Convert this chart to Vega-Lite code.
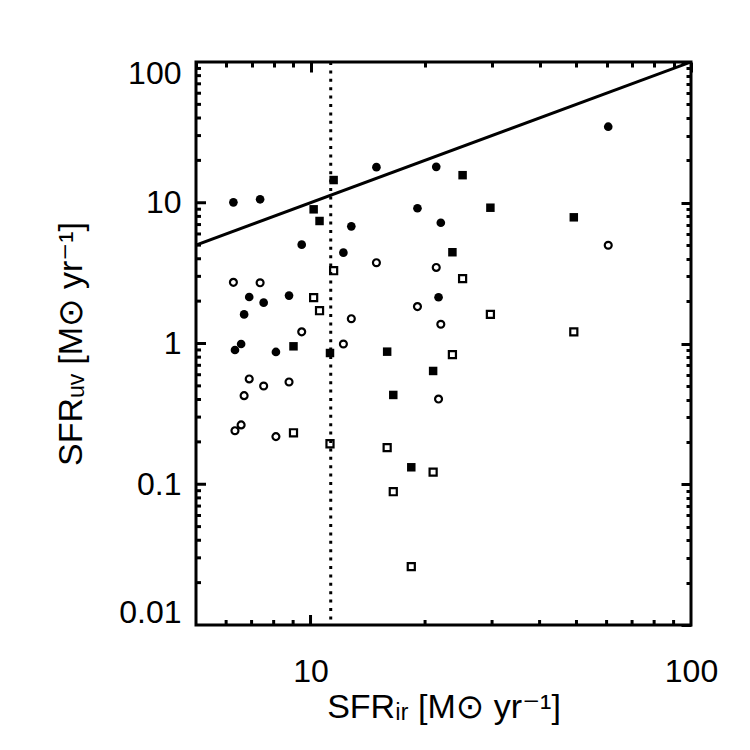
{
  "$schema": "https://vega.github.io/schema/vega-lite/v6.json",
  "width": 495,
  "height": 563,
  "autosize": "none",
  "padding": {"left": 196, "top": 62, "right": 59, "bottom": 125},
  "background": "white",
  "datasets": {
    "xticks": [
      {"sfr_ir": 6, "sfr_uv": 0.01, "major": false}, {"sfr_ir": 7, "sfr_uv": 0.01, "major": false},
      {"sfr_ir": 8, "sfr_uv": 0.01, "major": false}, {"sfr_ir": 9, "sfr_uv": 0.01, "major": false},
      {"sfr_ir": 10, "sfr_uv": 0.01, "major": true}, {"sfr_ir": 20, "sfr_uv": 0.01, "major": false},
      {"sfr_ir": 30, "sfr_uv": 0.01, "major": false}, {"sfr_ir": 40, "sfr_uv": 0.01, "major": false},
      {"sfr_ir": 50, "sfr_uv": 0.01, "major": false}, {"sfr_ir": 60, "sfr_uv": 0.01, "major": false},
      {"sfr_ir": 70, "sfr_uv": 0.01, "major": false}, {"sfr_ir": 80, "sfr_uv": 0.01, "major": false},
      {"sfr_ir": 90, "sfr_uv": 0.01, "major": false}
    ],
    "yticks": [
      {"sfr_ir": 5, "sfr_uv": 0.02, "major": false}, {"sfr_ir": 5, "sfr_uv": 0.03, "major": false},
      {"sfr_ir": 5, "sfr_uv": 0.04, "major": false}, {"sfr_ir": 5, "sfr_uv": 0.05, "major": false},
      {"sfr_ir": 5, "sfr_uv": 0.06, "major": false}, {"sfr_ir": 5, "sfr_uv": 0.07, "major": false},
      {"sfr_ir": 5, "sfr_uv": 0.08, "major": false}, {"sfr_ir": 5, "sfr_uv": 0.09, "major": false},
      {"sfr_ir": 5, "sfr_uv": 0.1, "major": true}, {"sfr_ir": 5, "sfr_uv": 0.2, "major": false},
      {"sfr_ir": 5, "sfr_uv": 0.3, "major": false}, {"sfr_ir": 5, "sfr_uv": 0.4, "major": false},
      {"sfr_ir": 5, "sfr_uv": 0.5, "major": false}, {"sfr_ir": 5, "sfr_uv": 0.6, "major": false},
      {"sfr_ir": 5, "sfr_uv": 0.7, "major": false}, {"sfr_ir": 5, "sfr_uv": 0.8, "major": false},
      {"sfr_ir": 5, "sfr_uv": 0.9, "major": false}, {"sfr_ir": 5, "sfr_uv": 1, "major": true},
      {"sfr_ir": 5, "sfr_uv": 2, "major": false}, {"sfr_ir": 5, "sfr_uv": 3, "major": false},
      {"sfr_ir": 5, "sfr_uv": 4, "major": false}, {"sfr_ir": 5, "sfr_uv": 5, "major": false},
      {"sfr_ir": 5, "sfr_uv": 6, "major": false}, {"sfr_ir": 5, "sfr_uv": 7, "major": false},
      {"sfr_ir": 5, "sfr_uv": 8, "major": false}, {"sfr_ir": 5, "sfr_uv": 9, "major": false},
      {"sfr_ir": 5, "sfr_uv": 10, "major": true}, {"sfr_ir": 5, "sfr_uv": 20, "major": false},
      {"sfr_ir": 5, "sfr_uv": 30, "major": false}, {"sfr_ir": 5, "sfr_uv": 40, "major": false},
      {"sfr_ir": 5, "sfr_uv": 50, "major": false}, {"sfr_ir": 5, "sfr_uv": 60, "major": false},
      {"sfr_ir": 5, "sfr_uv": 70, "major": false}, {"sfr_ir": 5, "sfr_uv": 80, "major": false},
      {"sfr_ir": 5, "sfr_uv": 90, "major": false}
    ],
    "ends": [{"sfr_ir": 5, "sfr_uv": 5}, {"sfr_ir": 100, "sfr_uv": 100}]
  },
  "data": {
    "values": [
      {"group": "filled circle", "sfr_ir": 6.27, "sfr_uv": 10.07},
      {"group": "filled circle", "sfr_ir": 7.37, "sfr_uv": 10.58},
      {"group": "filled circle", "sfr_ir": 14.9, "sfr_uv": 17.9},
      {"group": "filled circle", "sfr_ir": 21.4, "sfr_uv": 18.0},
      {"group": "filled circle", "sfr_ir": 60.6, "sfr_uv": 34.7},
      {"group": "filled circle", "sfr_ir": 19.1, "sfr_uv": 9.14},
      {"group": "filled circle", "sfr_ir": 22.0, "sfr_uv": 7.21},
      {"group": "filled circle", "sfr_ir": 12.8, "sfr_uv": 6.80},
      {"group": "filled circle", "sfr_ir": 9.48, "sfr_uv": 5.04},
      {"group": "filled circle", "sfr_ir": 12.2, "sfr_uv": 4.42},
      {"group": "filled circle", "sfr_ir": 6.90, "sfr_uv": 2.14},
      {"group": "filled circle", "sfr_ir": 7.53, "sfr_uv": 1.95},
      {"group": "filled circle", "sfr_ir": 8.78, "sfr_uv": 2.19},
      {"group": "filled circle", "sfr_ir": 6.69, "sfr_uv": 1.61},
      {"group": "filled circle", "sfr_ir": 21.7, "sfr_uv": 2.13},
      {"group": "filled circle", "sfr_ir": 6.57, "sfr_uv": 0.992},
      {"group": "filled circle", "sfr_ir": 6.33, "sfr_uv": 0.899},
      {"group": "filled circle", "sfr_ir": 8.11, "sfr_uv": 0.871},
      {"group": "open circle", "sfr_ir": 6.27, "sfr_uv": 2.72},
      {"group": "open circle", "sfr_ir": 7.37, "sfr_uv": 2.70},
      {"group": "open circle", "sfr_ir": 14.9, "sfr_uv": 3.75},
      {"group": "open circle", "sfr_ir": 21.4, "sfr_uv": 3.47},
      {"group": "open circle", "sfr_ir": 60.6, "sfr_uv": 4.99},
      {"group": "open circle", "sfr_ir": 19.1, "sfr_uv": 1.83},
      {"group": "open circle", "sfr_ir": 22.0, "sfr_uv": 1.37},
      {"group": "open circle", "sfr_ir": 12.8, "sfr_uv": 1.50},
      {"group": "open circle", "sfr_ir": 9.48, "sfr_uv": 1.21},
      {"group": "open circle", "sfr_ir": 12.2, "sfr_uv": 0.992},
      {"group": "open circle", "sfr_ir": 6.90, "sfr_uv": 0.560},
      {"group": "open circle", "sfr_ir": 7.53, "sfr_uv": 0.499},
      {"group": "open circle", "sfr_ir": 8.78, "sfr_uv": 0.533},
      {"group": "open circle", "sfr_ir": 6.69, "sfr_uv": 0.426},
      {"group": "open circle", "sfr_ir": 21.7, "sfr_uv": 0.403},
      {"group": "open circle", "sfr_ir": 6.57, "sfr_uv": 0.264},
      {"group": "open circle", "sfr_ir": 6.33, "sfr_uv": 0.240},
      {"group": "open circle", "sfr_ir": 8.11, "sfr_uv": 0.218},
      {"group": "filled square", "sfr_ir": 11.5, "sfr_uv": 14.5},
      {"group": "filled square", "sfr_ir": 25.1, "sfr_uv": 15.7},
      {"group": "filled square", "sfr_ir": 10.19, "sfr_uv": 8.98},
      {"group": "filled square", "sfr_ir": 10.56, "sfr_uv": 7.42},
      {"group": "filled square", "sfr_ir": 29.7, "sfr_uv": 9.22},
      {"group": "filled square", "sfr_ir": 49.2, "sfr_uv": 7.88},
      {"group": "filled square", "sfr_ir": 23.6, "sfr_uv": 4.45},
      {"group": "filled square", "sfr_ir": 9.02, "sfr_uv": 0.955},
      {"group": "filled square", "sfr_ir": 11.25, "sfr_uv": 0.856},
      {"group": "filled square", "sfr_ir": 15.9, "sfr_uv": 0.875},
      {"group": "filled square", "sfr_ir": 21.0, "sfr_uv": 0.638},
      {"group": "filled square", "sfr_ir": 16.5, "sfr_uv": 0.431},
      {"group": "filled square", "sfr_ir": 18.4, "sfr_uv": 0.132},
      {"group": "open square", "sfr_ir": 11.5, "sfr_uv": 3.29},
      {"group": "open square", "sfr_ir": 25.1, "sfr_uv": 2.89},
      {"group": "open square", "sfr_ir": 10.19, "sfr_uv": 2.12},
      {"group": "open square", "sfr_ir": 10.56, "sfr_uv": 1.71},
      {"group": "open square", "sfr_ir": 29.7, "sfr_uv": 1.61},
      {"group": "open square", "sfr_ir": 49.2, "sfr_uv": 1.21},
      {"group": "open square", "sfr_ir": 23.6, "sfr_uv": 0.833},
      {"group": "open square", "sfr_ir": 9.02, "sfr_uv": 0.232},
      {"group": "open square", "sfr_ir": 11.25, "sfr_uv": 0.194},
      {"group": "open square", "sfr_ir": 15.9, "sfr_uv": 0.182},
      {"group": "open square", "sfr_ir": 21.0, "sfr_uv": 0.122},
      {"group": "open square", "sfr_ir": 16.5, "sfr_uv": 0.0885},
      {"group": "open square", "sfr_ir": 18.4, "sfr_uv": 0.0260}
    ]
  },
  "layer": [
    {
      "transform": [{"filter": "datum.group == 'filled circle'"}],
      "mark": {"type": "point", "shape": "circle", "filled": true, "color": "black", "opacity": 1, "size": 75},
      "encoding": {
        "x": {"field": "sfr_ir", "type": "quantitative", "scale": {"type": "log", "domain": [5, 100], "nice": false}, "axis": null},
        "y": {"field": "sfr_uv", "type": "quantitative", "scale": {"type": "log", "domain": [0.01, 100], "nice": false}, "axis": null}
      }
    },
    {
      "transform": [{"filter": "datum.group == 'open circle'"}],
      "mark": {"type": "point", "shape": "circle", "filled": false, "color": "black", "opacity": 1, "strokeWidth": 2.2, "size": 48},
      "encoding": {
        "x": {"field": "sfr_ir", "type": "quantitative", "axis": null},
        "y": {"field": "sfr_uv", "type": "quantitative", "axis": null}
      }
    },
    {
      "transform": [{"filter": "datum.group == 'filled square'"}],
      "mark": {"type": "point", "shape": "square", "filled": true, "color": "black", "opacity": 1, "size": 72},
      "encoding": {
        "x": {"field": "sfr_ir", "type": "quantitative", "axis": null},
        "y": {"field": "sfr_uv", "type": "quantitative", "axis": null}
      }
    },
    {
      "transform": [{"filter": "datum.group == 'open square'"}],
      "mark": {"type": "point", "shape": "square", "filled": false, "color": "black", "opacity": 1, "strokeWidth": 2.2, "size": 50},
      "encoding": {
        "x": {"field": "sfr_ir", "type": "quantitative", "axis": null},
        "y": {"field": "sfr_uv", "type": "quantitative", "axis": null}
      }
    },
    {
      "data": {"name": "xticks"},
      "mark": {"type": "point", "shape": "M0,0L0,-1", "filled": false, "color": "black", "strokeWidth": 3, "strokeCap": "butt", "opacity": 1},
      "encoding": {
        "x": {"field": "sfr_ir", "type": "quantitative", "axis": null},
        "y": {"field": "sfr_uv", "type": "quantitative", "axis": null},
        "size": {"condition": {"test": "datum.major", "value": 400}, "value": 100}
      }
    },
    {
      "data": {"name": "yticks"},
      "mark": {"type": "point", "shape": "M0,0L1,0", "filled": false, "color": "black", "strokeWidth": 3, "strokeCap": "butt", "opacity": 1},
      "encoding": {
        "x": {"field": "sfr_ir", "type": "quantitative", "axis": null},
        "y": {"field": "sfr_uv", "type": "quantitative", "axis": null},
        "size": {"condition": {"test": "datum.major", "value": 400}, "value": 100}
      }
    },
    {
      "data": {"name": "ends"},
      "mark": {"type": "line", "color": "black", "strokeWidth": 3, "clip": true},
      "encoding": {
        "x": {"field": "sfr_ir", "type": "quantitative", "axis": null},
        "y": {"field": "sfr_uv", "type": "quantitative", "axis": null}
      }
    },
    {
      "data": {"values": [{"sfr_ir": 11.3}]},
      "mark": {"type": "rule", "color": "black", "strokeWidth": 3, "strokeDash": [3, 5.4]},
      "encoding": {
        "x": {"field": "sfr_ir", "type": "quantitative", "axis": null}
      }
    },
    {
      "data": {"name": "ends"},
      "mark": {"type": "point", "opacity": 0},
      "encoding": {
        "x": {
          "field": "sfr_ir",
          "type": "quantitative",
          "axis": {
            "orient": "bottom",
            "values": [10, 100],
            "labelExpr": "datum.value + ''",
            "tickSize": -10,
            "tickOpacity": 0,
            "labelPadding": 41,
            "labelFlush": false,
            "labelOverlap": false,
            "title": "SFRᵢᵣ [M⊙ yr⁻¹]",
            "titleX": 247.5,
            "titleY": 92,
            "titleBaseline": "alphabetic"
          }
        },
        "y": {
          "field": "sfr_uv",
          "type": "quantitative",
          "axis": {
            "orient": "left",
            "values": [0.01, 0.1, 1, 10, 100],
            "labelExpr": "datum.value + ''",
            "tickSize": -10,
            "tickOpacity": 0,
            "labelPadding": 25,
            "labelFlush": true,
            "labelFlushOffset": 4,
            "labelOverlap": false,
            "title": "SFRᵤᵥ [M⊙ yr⁻¹]",
            "titleX": -115,
            "titleY": 281.5,
            "titleBaseline": "alphabetic"
          }
        }
      }
    },
    {
      "data": {"name": "ends"},
      "mark": {"type": "point", "opacity": 0},
      "encoding": {
        "x": {
          "field": "sfr_ir",
          "type": "quantitative",
          "axis": {
            "orient": "top",
            "values": [5, 6, 7, 8, 9, 10, 20, 30, 40, 50, 60, 70, 80, 90, 100],
            "labels": false,
            "tickSize": -10,
            "tickDash": {"condition": {"test": "datum.value == 10 || datum.value == 100", "value": [10, 0]}, "value": [5, 40]},
            "title": null
          }
        },
        "y": {
          "field": "sfr_uv",
          "type": "quantitative",
          "axis": {
            "orient": "right",
            "values": [0.01, 0.02, 0.03, 0.04, 0.05, 0.06, 0.07, 0.08, 0.09, 0.1, 0.2, 0.3, 0.4, 0.5, 0.6, 0.7, 0.8, 0.9, 1, 2, 3, 4, 5, 6, 7, 8, 9, 10, 20, 30, 40, 50, 60, 70, 80, 90, 100],
            "labels": false,
            "tickSize": -10,
            "tickDash": {"condition": {"test": "indexof([0.01, 0.1, 1, 10, 100], datum.value) >= 0", "value": [10, 0]}, "value": [5, 40]},
            "title": null
          }
        }
      }
    }
  ],
  "resolve": {"axis": {"x": "independent", "y": "independent"}},
  "config": {
    "view": {"stroke": "black", "strokeWidth": 3},
    "axis": {
      "domain": false,
      "grid": false,
      "ticks": true,
      "tickColor": "black",
      "tickWidth": 3,
      "labelFont": "Liberation Sans",
      "labelFontSize": 32,
      "labelColor": "black",
      "titleFont": "Liberation Sans, DejaVu Sans",
      "titleFontSize": 34,
      "titleFontWeight": "normal",
      "titleColor": "black"
    }
  }
}
